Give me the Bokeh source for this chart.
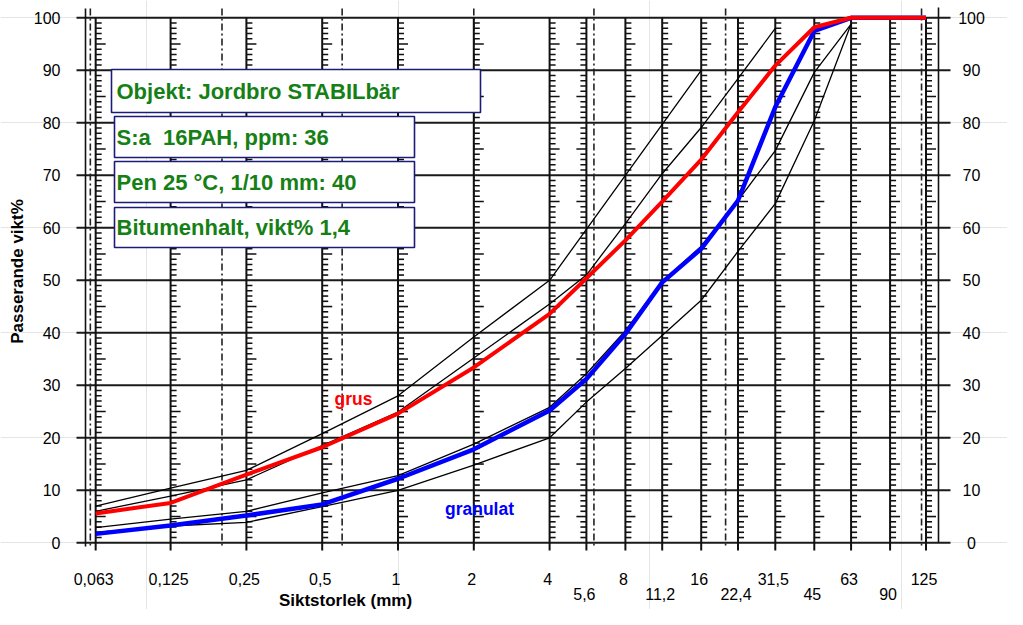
import math
from bokeh.plotting import figure
from bokeh.models import Range1d
from bokeh.core.properties import value
from bokeh.embed import file_html
from bokeh.resources import INLINE

# ---------------- data ----------------
sieve_mm = [0.063, 0.125, 0.25, 0.5, 1, 2, 4, 5.6, 8, 11.2, 16, 22.4, 31.5, 45, 63, 90, 125]
sieve_labels = ["0,063", "0,125", "0,25", "0,5", "1", "2", "4", "5,6", "8", "11,2",
                "16", "22,4", "31,5", "45", "63", "90", "125"]
label_row = [1, 1, 1, 1, 1, 1, 1, 2, 1, 2, 1, 2, 1, 2, 1, 2, 1]
fraction_limits_mm = [0.06, 0.2, 0.6, 2, 6, 20, 120]
y_ticks = [0, 10, 20, 30, 40, 50, 60, 70, 80, 90, 100]

grus = [5.6, 7.6, 13.0, 18.2, 24.6, 33.4, 43.6, 50.4, 57.6, 65.0, 73.0, 82.0, 90.9, 98.2, 100, 100, 100]
granulat = [1.7, 3.3, 5.2, 7.3, 12.2, 17.8, 25.2, 31.2, 39.8, 49.6, 56.0, 65.2, 83.0, 97.5, 100, 100, 100]

grus_upper_mm = [0.063, 0.125, 0.25, 0.5, 1, 2, 4, 8, 16]
grus_upper = [7.0, 10.4, 13.8, 20.8, 28.0, 39.2, 50.0, 70.0, 90.0]
grus_lower_mm = [0.063, 0.125, 0.25, 0.5, 1, 2, 4, 5.6, 8, 11.2, 16, 22.4, 31.5]
grus_lower = [6.0, 8.9, 12.0, 18.5, 24.9, 35.2, 45.5, 51.0, 60.8, 70.3, 79.1, 88.4, 98.0]
gran_upper_mm = [0.063, 0.125, 0.25, 0.5, 1, 2, 4, 5.6, 8, 11.2, 16, 22.4, 31.5, 45, 63]
gran_upper = [2.9, 4.5, 6.0, 9.5, 12.8, 18.8, 25.8, 32.2, 40.4, 49.8, 56.5, 65.2, 74.7, 89.6, 98.8]
gran_lower_mm = [0.063, 0.125, 0.25, 0.5, 1, 2, 4, 5.6, 8, 11.2, 16, 22.4, 31.5, 45, 63]
gran_lower = [2.0, 3.2, 3.9, 6.9, 10.0, 14.8, 20.0, 26.8, 33.2, 39.5, 46.2, 55.5, 64.6, 80.4, 98.8]

info_texts = ["Objekt: Jordbro STABILbär", "S:a \u00a016PAH, ppm: 36",
              "Pen 25 °C, 1/10 mm: 40", "Bitumenhalt, vikt% 1,4"]
y_title = "Passerande vikt%"
x_title = "Siktstorlek (mm)"

# ---------------- layout ----------------
W, H = 1007, 609
MARGIN = 0
PX_OCT = 75.8          # pixels per doubling of sieve size
X_ONE = 397.5          # page x of the 1 mm line
Y_ZERO = 542.3         # page y of 0 %
PX_PCT = 5.25          # pixels per percent


def xd(X):
    """page pixel x -> data x (mm, log scale)"""
    return 2 ** ((X - X_ONE) / PX_OCT)


def yd(Y):
    """page pixel y -> data y (%)"""
    return (Y_ZERO - Y) / PX_PCT


def xshift(x, px):
    return x * 2 ** (px / PX_OCT)


FONT = value("Liberation Sans")

p = figure(width=W, height=H, x_axis_type="log",
           x_range=Range1d(xd(MARGIN), xd(MARGIN + W)),
           y_range=Range1d(yd(MARGIN + H), yd(MARGIN)),
           output_backend="svg", toolbar_location=None, min_border=0,
           x_axis_location=None, y_axis_location=None)
p.outline_line_color = None
p.background_fill_color = "white"
p.border_fill_color = "white"

# horizontal grid lines
n = len(y_ticks)
p.segment(x0=[xd(76)] * n, x1=[xd(950)] * n, y0=y_ticks, y1=y_ticks,
          line_color="#1a1a1a", line_width=2)

# dash-dot fraction limits
m = len(fraction_limits_mm)
p.segment(x0=fraction_limits_mm, x1=fraction_limits_mm, y0=[yd(8)] * m, y1=[yd(548)] * m,
          line_color="#222222", line_width=1.6, line_dash="7 3 2 3")

# sieve lines
k = len(sieve_mm)
p.segment(x0=sieve_mm, x1=sieve_mm, y0=[yd(550)] * k, y1=[100] * k,
          line_color="#111111", line_width=2)

# minor ticks along every sieve line
tx0, tx1, ty = [], [], []
for s in sieve_mm:
    direction = -1 if s == 5.6 else 1
    for v in range(1, 100):
        if v % 10 == 0:
            continue
        ln = 10 if v % 5 == 0 else 6
        tx0.append(s)
        tx1.append(xshift(s, direction * ln))
        ty.append(v)
p.segment(x0=tx0, x1=tx1, y0=ty, y1=ty, line_color="#111111", line_width=1.6)

# outer frame lines
p.segment(x0=[xd(85), xd(938)], x1=[xd(85), xd(938)], y0=[yd(546), yd(542)], y1=[yd(8), yd(7)],
          line_color="#111111", line_width=1.6)

# info boxes
box_left = [xd(111), xd(114), xd(114), xd(114)]
box_right = [xd(480), xd(414), xd(414), xd(414)]
box_top = [yd(69), yd(116), yd(161), yd(207)]
box_bottom = [yd(112), yd(157), yd(202), yd(247)]
p.quad(left=box_left, right=box_right, top=box_top, bottom=box_bottom,
       fill_color="white", line_color="#1c1c78", line_width=1.6)
p.text(x=[xd(116)] * 4, y=[(t + b) / 2 for t, b in zip(box_top, box_bottom)], text=info_texts,
       text_font=FONT, text_font_style="bold", text_font_size="22px",
       text_color="#158015", text_align="left", text_baseline="middle")

# envelope lines
for xs, ys in [(grus_upper_mm, grus_upper), (grus_lower_mm, grus_lower),
               (gran_upper_mm, gran_upper), (gran_lower_mm, gran_lower)]:
    p.line(xs, ys, line_color="black", line_width=1.3)

# measured curves
p.line(sieve_mm, granulat, line_color="#0000ff", line_width=4.5)
p.line(sieve_mm, grus, line_color="#ff0000", line_width=4)

# curve labels
p.text(x=[xd(353)], y=[yd(398)], text=["grus"], text_font=FONT, text_font_style="bold",
       text_font_size="17.5px", text_color="#ff0000", text_align="center", text_baseline="middle")
p.text(x=[xd(479)], y=[yd(508)], text=["granulat"], text_font=FONT, text_font_style="bold",
       text_font_size="17.5px", text_color="#0000ff", text_align="center", text_baseline="middle")

# y tick labels, left and right
p.text(x=[xd(60)] * n, y=y_ticks, text=[str(v) for v in y_ticks], text_font=FONT,
       text_font_size="16px", text_color="black", text_align="right", text_baseline="middle")
p.text(x=[xd(971)] * n, y=y_ticks, text=[str(v) for v in y_ticks], text_font=FONT,
       text_font_size="16px", text_color="black", text_align="center", text_baseline="middle")

# x tick labels in two rows
row_y = {1: yd(578), 2: yd(593)}
p.text(x=sieve_mm, y=[row_y[r] for r in label_row], text=sieve_labels, text_font=FONT,
       text_font_size="16px", text_color="black", text_align="center", text_baseline="middle",
       x_offset=-2)

# axis titles
p.text(x=[xd(17)], y=[yd(271)], text=[y_title], angle=math.pi / 2, text_font=FONT,
       text_font_style="bold", text_font_size="17px", text_color="black",
       text_align="center", text_baseline="middle")
p.text(x=[xd(345)], y=[yd(600)], text=[x_title], text_font=FONT, text_font_style="bold",
       text_font_size="17px", text_color="black", text_align="center", text_baseline="middle")

open("out.html", "w").write(file_html(p, INLINE))
